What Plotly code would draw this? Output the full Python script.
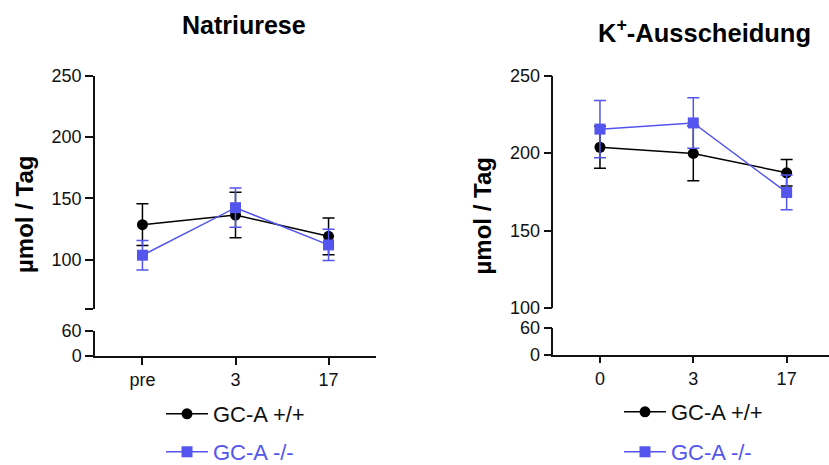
import plotly.graph_objects as go

W, H = 829, 465

# ---- data ----
left_categories = ["pre", "3", "17"]
right_categories = ["0", "3", "17"]
series_names = ["GC-A +/+", "GC-A -/-"]

natri_wt = [128.7, 136.5, 119.2]
natri_wt_err = [17.0, 18.5, 15.0]
natri_ko = [103.8, 142.5, 112.2]
natri_ko_err = [12.0, 16.0, 12.7]

kal_wt = [203.8, 199.8, 187.3]
kal_wt_err = [13.6, 17.7, 8.6]
kal_ko = [215.5, 219.5, 174.6]
kal_ko_err = [18.5, 16.3, 11.2]

left_upper_ticks = [60, 100, 150, 200, 250]
left_upper_ticktext = ["", "100", "150", "200", "250"]
right_upper_ticks = [100, 150, 200, 250]
lower_ticks = [0, 60]

BLACK = "#000000"
BLUE = "#5454EE"
FONT = "Liberation Sans, Arial, sans-serif"


def py(p):
    return 1 - p / H


def px(p):
    return p / W


fig = go.Figure()

xs = [0, 1, 2]


def add(yv, err, name, color, symbol, xa, ya, legend, group):
    fig.add_trace(go.Scatter(
        x=xs, y=yv, name=name, mode="lines+markers",
        line=dict(color=color, width=1.5),
        marker=dict(color=color, size=11, symbol=symbol),
        error_y=dict(type="data", array=err, visible=True, color=color,
                     thickness=1.5, width=6),
        xaxis=xa, yaxis=ya, legend=legend, legendgroup=group, showlegend=True,
        cliponaxis=False,
    ))


add(natri_wt, natri_wt_err, series_names[0], BLACK, "circle", "x", "y", "legend", "g1")
add(natri_ko, natri_ko_err,
    f"<span style='color:{BLUE}'>{series_names[1]}</span>", BLUE, "square", "x", "y", "legend2", "g2")
add(kal_wt, kal_wt_err, series_names[0], BLACK, "circle", "x2", "y3", "legend3", "g3")
add(kal_ko, kal_ko_err,
    f"<span style='color:{BLUE}'>{series_names[1]}</span>", BLUE, "square", "x2", "y3", "legend4", "g4")

# empty traces so that the lower (broken) axis segments exist as subplots
for xa, ya in (("x", "y2"), ("x2", "y4")):
    fig.add_trace(go.Scatter(x=[None], y=[None], xaxis=xa, yaxis=ya, showlegend=False,
                             hoverinfo="skip", mode="markers"))

axis_common = dict(showline=True, linecolor="#111", linewidth=1.5, ticks="outside",
                   ticklen=8, tickwidth=1.5, tickcolor="#111", showgrid=False,
                   zeroline=False, tickfont=dict(family=FONT, size=18, color="#111"))

fig.update_layout(
    width=W, height=H, margin=dict(l=0, r=0, t=0, b=0, autoexpand=False),
    paper_bgcolor="white", plot_bgcolor="white",
    font=dict(family=FONT),
    xaxis=dict(domain=[px(95), px(376)], range=[-0.51, 2.51], anchor="y2",
               tickvals=xs, ticktext=left_categories, **{**axis_common, "ticklen": 7}),
    yaxis=dict(domain=[py(309), py(75.7)], range=[60, 250], anchor="x",
               tickvals=left_upper_ticks, ticktext=left_upper_ticktext, **axis_common),
    yaxis2=dict(domain=[py(356), py(330.7)], range=[0, 60], anchor="x",
                tickvals=lower_ticks, **axis_common),
    xaxis2=dict(domain=[px(553.3), 1.0], range=[-0.5, 2.454], anchor="y4",
                tickvals=xs, ticktext=right_categories, **{**axis_common, "ticklen": 7}),
    yaxis3=dict(domain=[py(308), py(75.7)], range=[100, 250], anchor="x2",
                tickvals=right_upper_ticks, **axis_common),
    yaxis4=dict(domain=[py(354.7), py(328)], range=[0, 60], anchor="x2",
                tickvals=lower_ticks, **axis_common),
)

leg_common = dict(font=dict(family=FONT, size=22, color="#111"), itemwidth=42,
                  bgcolor="rgba(0,0,0,0)", xanchor="left", yanchor="middle")
fig.update_layout(
    legend=dict(x=px(161), y=py(414), **leg_common),
    legend2=dict(x=px(161), y=py(452), **leg_common),
    legend3=dict(x=px(619), y=py(412), **leg_common),
    legend4=dict(x=px(619), y=py(452), **leg_common),
)

ann = []
ann.append(dict(text="<b>Natriurese</b>", x=px(244), y=py(25), xref="paper", yref="paper",
                showarrow=False, font=dict(family=FONT, size=25, color="#000"),
                xanchor="center", yanchor="middle"))
ann.append(dict(text="<b>K<sup>+</sup>-Ausscheidung</b>", x=px(704), y=py(31), xref="paper",
                yref="paper", showarrow=False, font=dict(family=FONT, size=25.5, color="#000"),
                xanchor="center", yanchor="middle"))
ann.append(dict(text="<b>µmol / Tag</b>", x=px(24), y=py(215), xref="paper", yref="paper",
                showarrow=False, textangle=-90, font=dict(family=FONT, size=24, color="#000"),
                xanchor="center", yanchor="middle"))
ann.append(dict(text="<b>µmol / Tag</b>", x=px(481.5), y=py(216), xref="paper", yref="paper",
                showarrow=False, textangle=-90, font=dict(family=FONT, size=24, color="#000"),
                xanchor="center", yanchor="middle"))
fig.update_layout(annotations=ann)

fig.write_html("out.html")
